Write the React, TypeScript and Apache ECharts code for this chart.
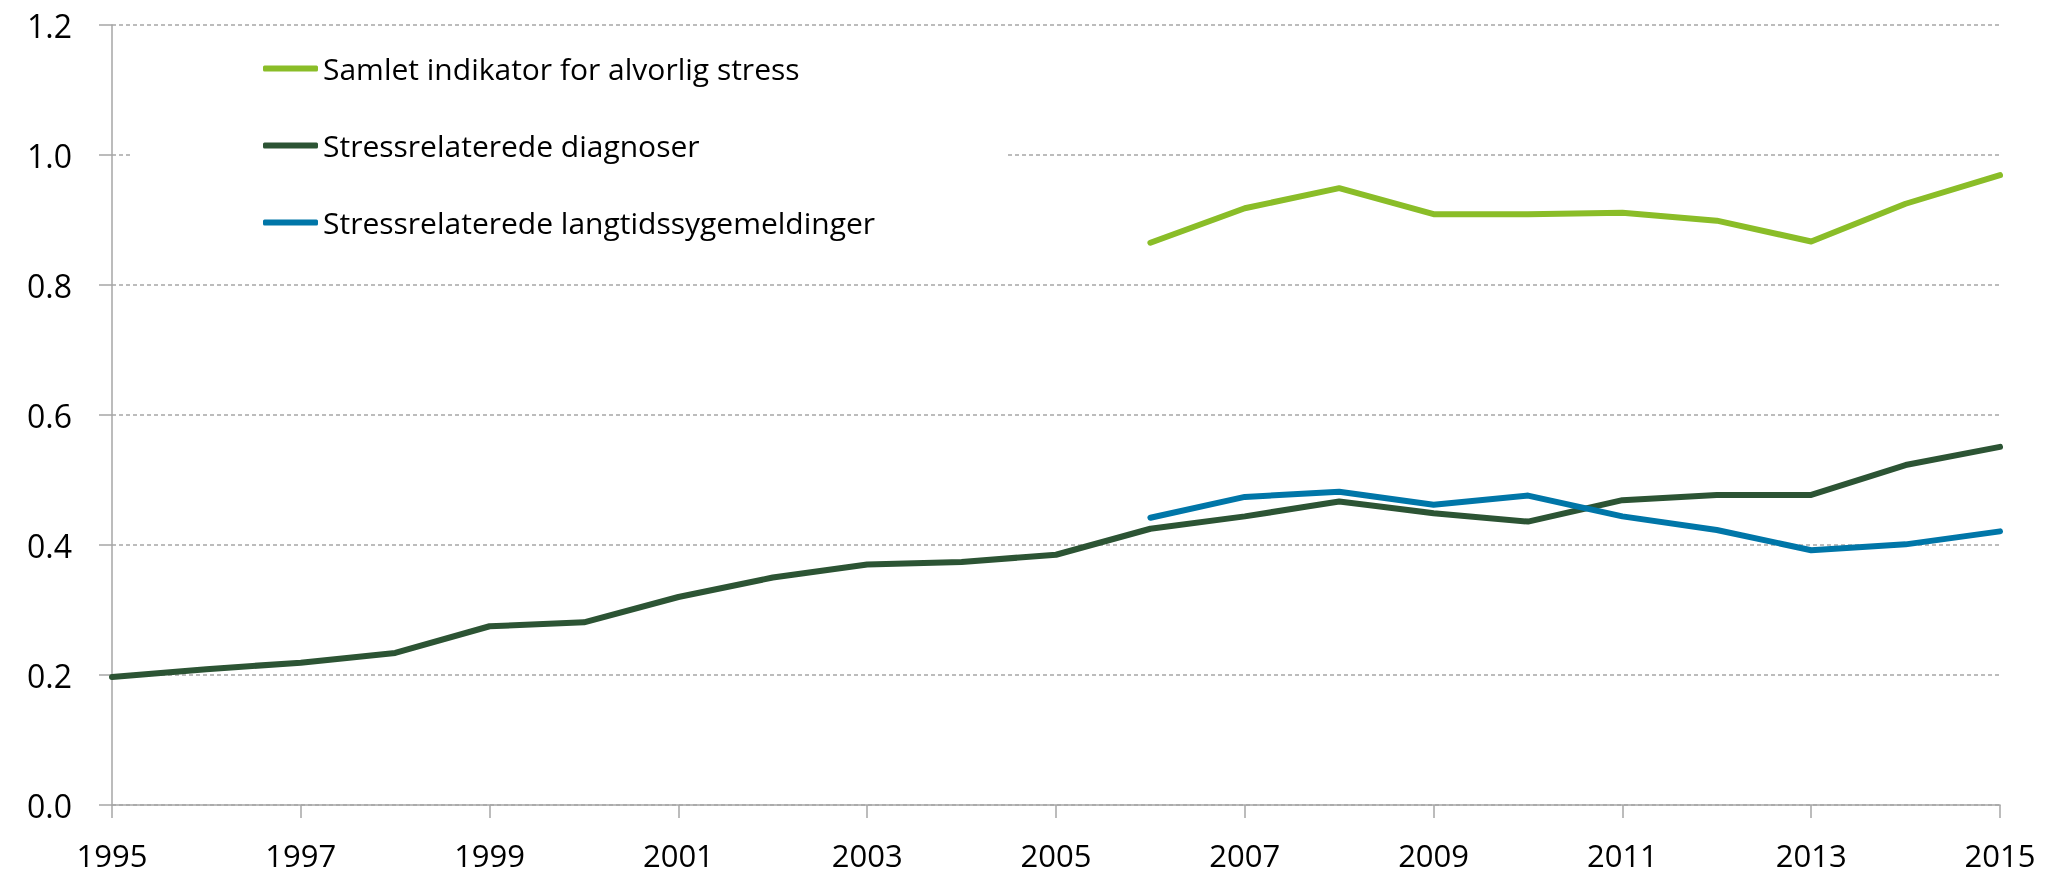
import React, { useEffect, useRef } from "react";
import * as echarts from "echarts";

const years = ["1995","1996","1997","1998","1999","2000","2001","2002","2003","2004","2005","2006","2007","2008","2009","2010","2011","2012","2013","2014","2015"];
const samlet = [null,null,null,null,null,null,null,null,null,null,null,0.865,0.918,0.949,0.909,0.909,0.911,0.899,0.867,0.925,0.969];
const diagnoser = [0.197,0.209,0.219,0.234,0.275,0.281,0.320,0.350,0.370,0.374,0.385,0.425,0.444,0.467,0.449,0.436,0.469,0.477,0.477,0.523,0.551];
const langtid = [null,null,null,null,null,null,null,null,null,null,null,0.442,0.474,0.482,0.462,0.476,0.444,0.423,0.392,0.401,0.421];
const seriesNames = ["Samlet indikator for alvorlig stress","Stressrelaterede diagnoser","Stressrelaterede langtidssygemeldinger"];
const colors = ["#8abd28","#2c5434","#0076a8"];

export default function App() {
  const ref = useRef<HTMLDivElement>(null);
  useEffect(() => {
    const chart = echarts.init(ref.current!, null, { renderer: "svg" });
    const font = "'Open Sans', 'Noto Sans', sans-serif";
    const datasets = [samlet, diagnoser, langtid];
    chart.setOption({
      animation: false,
      grid: { left: 112, right: 57, top: 25, bottom: 73 },
      legend: {
        orient: "vertical",
        left: 131,
        top: 33,
        padding: [20, 131, 20, 132],
        backgroundColor: "#ffffff",
        itemWidth: 55,
        itemHeight: 6,
        itemGap: 46,
        icon: "roundRect",
        textStyle: { fontFamily: font, fontSize: 30, lineHeight: 31, color: "#000" },
        data: seriesNames,
        selectedMode: false,
      },
      xAxis: {
        type: "category",
        data: years,
        boundaryGap: false,
        axisLine: { lineStyle: { color: "#a6a6a6", width: 1.5 } },
        axisTick: { show: true, interval: 1, length: 13, lineStyle: { color: "#a6a6a6", width: 1.5 } },
        axisLabel: { interval: 1, margin: 34, fontFamily: font, fontSize: 31, lineHeight: 31, color: "#000" },
      },
      yAxis: {
        type: "value",
        min: 0,
        max: 1.2,
        interval: 0.2,
        axisLine: { show: true, lineStyle: { color: "#a6a6a6", width: 1.5 } },
        axisTick: { show: true, length: 13, lineStyle: { color: "#a6a6a6", width: 1.5 } },
        axisLabel: { margin: 40, fontFamily: font, fontSize: 32, color: "#000", formatter: (v: number) => v.toFixed(1) },
        splitLine: { show: true, lineStyle: { color: "#a6a6a6", type: [4, 3], width: 1.5 } },
      },
      series: seriesNames.map((name, i) => ({
        name,
        type: "line",
        data: datasets[i],
        showSymbol: false,
        symbol: "none",
        connectNulls: false,
        color: colors[i],
        lineStyle: { color: colors[i], width: 6, cap: "round", join: "round" },
      })),
    });
    return () => chart.dispose();
  }, []);
  return <div ref={ref} style={{ position: "fixed", left: 0, top: 0, width: 2057, height: 878 }} />;
}
